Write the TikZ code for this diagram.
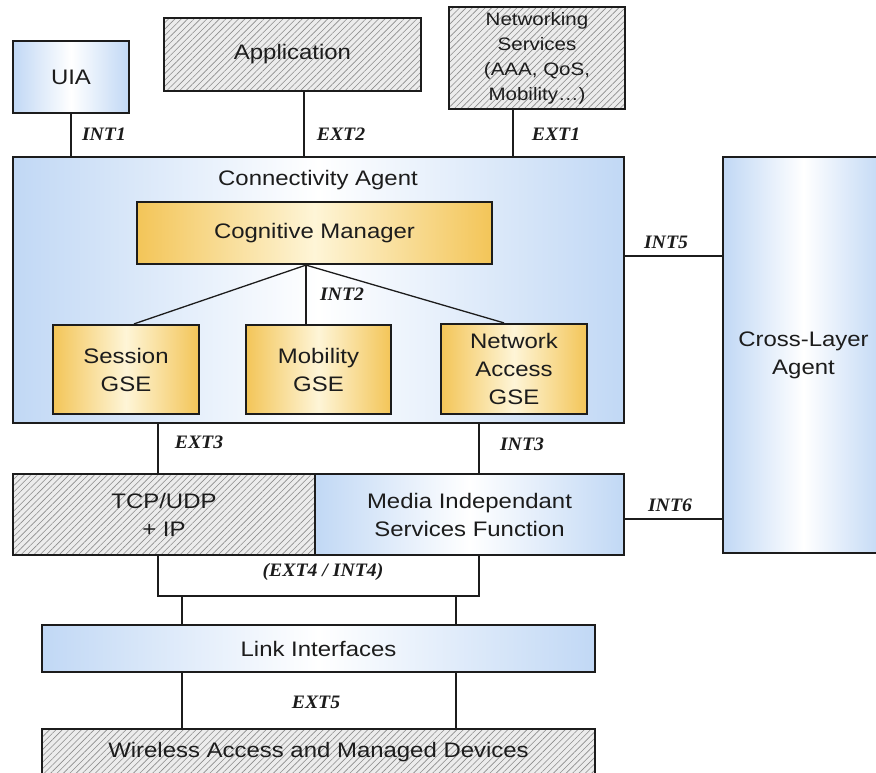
\documentclass[tikz,border=0pt]{standalone}
\usepackage{fontspec}
\setmainfont{Liberation Sans}[FakeStretch=1.14]
\newfontfamily\lblfont{Liberation Serif}[FakeStretch=1.04]
\usetikzlibrary{patterns.meta}
\definecolor{lblue}{RGB}{193,216,245}
\definecolor{gold}{RGB}{243,197,88}
\definecolor{goldlight}{RGB}{254,245,215}
\definecolor{ink}{RGB}{28,28,28}
\definecolor{hatchbg}{RGB}{236,236,236}
\definecolor{hatchln}{RGB}{140,140,140}
\tikzset{
  box/.style={draw=ink, line width=2.2pt, rectangle, inner sep=0pt, align=center,
    text=ink, font=\fontsize{21}{28}\selectfont},
  bluebox/.style={box, left color=lblue, right color=lblue, middle color=white},
  goldbox/.style={box, left color=gold, right color=gold, middle color=goldlight},
  hatchbox/.style={box, preaction={fill=hatchbg},
    pattern={Lines[angle=45,distance=4.5pt,line width=0.6pt]}, pattern color=hatchln},
  conn/.style={draw=ink, line width=1.8pt},
  thin/.style={draw=ink, line width=1.3pt},
  lbl/.style={inner sep=0pt, text=ink, font=\lblfont\bfseries\itshape\fontsize{19}{22}\selectfont},
  plain/.style={inner sep=0pt, text=ink, font=\fontsize{21}{28}\selectfont}
}
\begin{document}
\begin{tikzpicture}[x=1pt,y=-1pt]
\useasboundingbox (0,0) rectangle (876,773);
\clip (0,0) rectangle (876,773);
\fill[white] (0,0) rectangle (876,773);

% top boxes
\node[bluebox, minimum width=116pt, minimum height=72pt] (uia) at (71,77) {UIA};
\node[hatchbox, minimum width=257pt, minimum height=73pt] (app) at (292.5,54.5) {Application};
\node[hatchbox, minimum width=176pt, minimum height=102pt,
  font=\fontsize{18}{25}\selectfont] (ns) at (537,58) {Networking\\Services\\(AAA, QoS,\\Mobility\ldots)};

% connectivity agent
\node[bluebox, minimum width=611pt, minimum height=266pt] (ca) at (318.5,290) {};
\node[plain] (catitle) at (318,180) {Connectivity Agent};
\node[goldbox, minimum width=355pt, minimum height=62pt] (cm) at (314.5,233) {Cognitive Manager};
\node[goldbox, minimum width=146pt, minimum height=89pt] (ses) at (126,369.5) {Session\\GSE};
\node[goldbox, minimum width=145pt, minimum height=89pt] (mob) at (318.5,369.5) {Mobility\\GSE};
\node[goldbox, minimum width=146pt, minimum height=90pt] (na) at (514,369) {Network\\Access\\GSE};

% cross-layer agent
\node[bluebox, minimum width=161pt, minimum height=396pt] (cl) at (803.5,355) {Cross-Layer\\Agent};

% lower boxes
\node[hatchbox, minimum width=302pt, minimum height=81pt] (tcp) at (164,514.5) {TCP/UDP\\+ IP};
\node[bluebox, minimum width=309pt, minimum height=81pt] (misf) at (469.5,514.5) {Media Independant\\Services Function};
\node[bluebox, minimum width=553pt, minimum height=47pt] (link) at (318.5,648.5) {Link Interfaces};
\node[hatchbox, minimum width=553pt, minimum height=46pt] (wl) at (318.5,752) {Wireless Access and Managed Devices};

% connectors top
\draw[conn] (uia.south) -- (uia.south |- ca.north);
\draw[conn] ([xshift=11.5pt]app.south) -- ([xshift=11.5pt]app.south |- ca.north);
\draw[conn] ([xshift=-24pt]ns.south) -- ([xshift=-24pt]ns.south |- ca.north);

% INT2
\coordinate (cmb) at ([xshift=-8.5pt]cm.south);
\draw[thin] (cmb) -- ([xshift=8pt]ses.north);
\draw[thin] (cmb) -- (cmb |- mob.north);
\draw[thin] (cmb) -- ([xshift=-10pt]na.north);

% side
\draw[conn] ([yshift=34pt]ca.east) -- ([yshift=34pt]ca.east -| cl.west);
\draw[conn] ([yshift=-4.5pt]misf.east) -- ([yshift=-4.5pt]misf.east -| cl.west);

% middle
\draw[conn] ([xshift=-6pt]tcp.north) -- ([xshift=-6pt]tcp.north |- ca.south);
\draw[conn] ([xshift=9.5pt]misf.north) -- ([xshift=9.5pt]misf.north |- ca.south);

% bracket
\coordinate (brl) at ([xshift=-6pt,yshift=-40pt]tcp.south);
\coordinate (brr) at ([xshift=9.5pt]misf.south |- brl);
\draw[conn] ([xshift=-6pt]tcp.south) -- (brl) -- (brr) -- ([xshift=9.5pt]misf.south);
\coordinate (d1) at (182,0);
\coordinate (d2) at (456,0);
\draw[conn] (d1 |- brl) -- (d1 |- link.north);
\draw[conn] (d2 |- brl) -- (d2 |- link.north);
\draw[conn] (d1 |- link.south) -- (d1 |- wl.north);
\draw[conn] (d2 |- link.south) -- (d2 |- wl.north);

% labels
\node[lbl] (lint1) at (104,134) {INT1};
\node[lbl] (lext2) at (341,134) {EXT2};
\node[lbl] (lext1) at (556,134) {EXT1};
\node[lbl] (lint2) at (342,294) {INT2};
\node[lbl] (lint5) at (666,242) {INT5};
\node[lbl] (lext3) at (199,442) {EXT3};
\node[lbl] (lint3) at (522,444) {INT3};
\node[lbl] (lint6) at (670,505) {INT6};
\node[lbl] (lext4) at (323,572) {(EXT4 / INT4)};
\node[lbl] (lext5) at (316,702) {EXT5};
\end{tikzpicture}
\end{document}
